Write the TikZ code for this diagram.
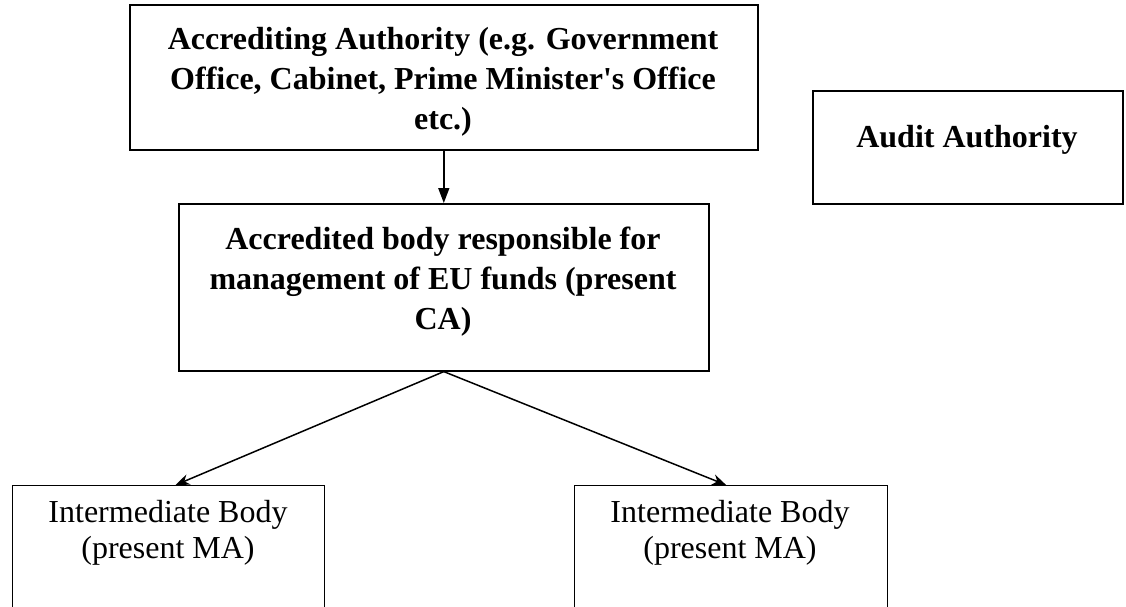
\documentclass[tikz,border=0pt]{standalone}
\usepackage{fontspec}
\setmainfont{Liberation Serif}
\usetikzlibrary{arrows.meta}
\tikzset{
  frame/.style={draw, line width=1.6pt, inner sep=0pt, anchor=north west},
  thinframe/.style={draw, line width=1.2pt, inner sep=0pt, anchor=north west},
  boldtext/.style={inner sep=0pt, align=center, font=\fontsize{32pt}{40pt}\selectfont\bfseries},
  plaintext/.style={inner sep=0pt, align=center, font=\fontsize{32pt}{36pt}\selectfont},
  arrowdown/.style={line width=1.6pt, -{Triangle[length=15pt,width=11pt]}},
  arrowside/.style={line width=1.5pt, -{Stealth[length=14pt,width=11pt]}}
}
\begin{document}
\begin{tikzpicture}[x=1pt,y=-1pt]
\useasboundingbox (0,0) rectangle (1126,607);
\clip (0,0) rectangle (1126,607);
\fill[white] (0,0) rectangle (1126,607);
% boxes
\node[frame, minimum width=628pt, minimum height=145pt] (top) at (129,4) {};
\node[frame, minimum width=310pt, minimum height=113pt] (audit) at (812,90) {};
\node[frame, minimum width=530pt, minimum height=167pt] (mid) at (178,203) {};
\node[thinframe, minimum width=312pt, minimum height=150pt] (left) at (12,485) {};
\node[thinframe, minimum width=313pt, minimum height=150pt] (right) at (574,485) {};
% texts
\node[boldtext, anchor=north] (toptext) at (443,27) {Accrediting Authority (e.g. Government\\Office, Cabinet, Prime Minister\textquotesingle s Office\\etc.)};
\node[boldtext, anchor=base] (audittext) at (967,147) {Audit Authority};
\node[boldtext, anchor=north] (midtext) at (443,227) {Accredited body responsible for\\management of EU funds (present\\CA)};
\node[plaintext, anchor=north] (lefttext) at (168,500) {Intermediate Body\\(present MA)};
\node[plaintext, anchor=north] (righttext) at (730,500) {Intermediate Body\\(present MA)};
% connectors
\draw[arrowdown] (top.south) -- (mid.north);
\draw[arrowside] (mid.south) -- ([xshift=7pt]left.north);
\draw[arrowside] (mid.south) -- ([xshift=-5pt]right.north);
\end{tikzpicture}
\end{document}
